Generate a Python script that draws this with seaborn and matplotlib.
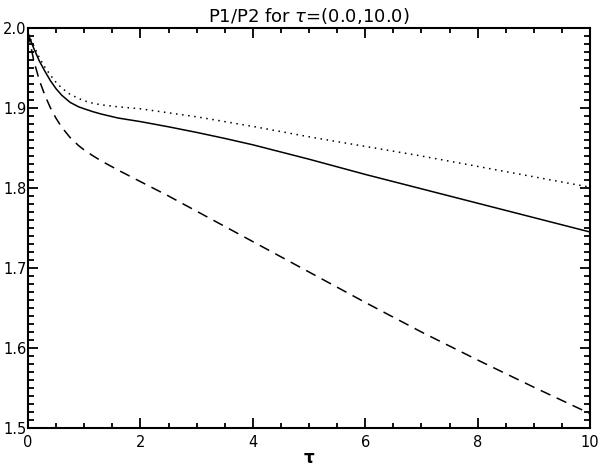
import numpy as np
import pandas as pd
import matplotlib
matplotlib.use("Agg")
import matplotlib.pyplot as plt
import seaborn as sns
from matplotlib.ticker import MultipleLocator

# values
tau = [0, 0.1, 0.2, 0.3, 0.4, 0.5, 0.6, 0.75, 0.9, 1.0, 1.15, 1.3, 1.6, 2.0,
       2.5, 3.0, 3.5, 4.0, 5.0, 6.0, 7.0, 8.0, 9.0, 10.0]
ratio_solid = [1.993, 1.975, 1.959, 1.946, 1.934, 1.924, 1.916, 1.907, 1.9015,
               1.899, 1.8955, 1.8925, 1.8875, 1.883, 1.8765, 1.8695, 1.862,
               1.854, 1.836, 1.817, 1.799, 1.781, 1.763, 1.745]
ratio_dotted = [1.993, 1.978, 1.963, 1.951, 1.941, 1.932, 1.925, 1.917, 1.912,
                1.909, 1.906, 1.904, 1.9015, 1.899, 1.894, 1.889, 1.883, 1.877,
                1.864, 1.852, 1.840, 1.827, 1.814, 1.801]
ratio_dashed = [1.995, 1.960, 1.935, 1.916, 1.900, 1.887, 1.876, 1.863, 1.853,
                1.8475, 1.8405, 1.834, 1.8225, 1.808, 1.790, 1.771, 1.752,
                1.733, 1.695, 1.657, 1.620, 1.585, 1.551, 1.518]


def main():
    sns.set_style("ticks")
    plt.rcParams["font.family"] = ["DejaVu Sans"]
    plt.rcParams["mathtext.fontset"] = "dejavusans"
    plt.rcParams["text.color"] = "black"
    plt.rcParams["axes.labelcolor"] = "black"

    fig = plt.figure(figsize=(6.0, 4.68), dpi=100)
    ax = fig.add_axes([28 / 600, 1 - 428 / 468, 562 / 600, 400 / 468])

    df = pd.DataFrame({"tau": tau, "solid": ratio_solid,
                       "dotted": ratio_dotted, "dashed": ratio_dashed})

    sns.lineplot(data=df, x="tau", y="solid", ax=ax, color="black", lw=1.1)
    sns.lineplot(data=df, x="tau", y="dotted", ax=ax, color="black", lw=1.1,
                 linestyle=(0, (1, 3)))
    sns.lineplot(data=df, x="tau", y="dashed", ax=ax, color="black", lw=1.1,
                 linestyle=(0, (7, 4.5)))

    ax.set_xlim(0, 10)
    ax.set_ylim(1.5, 2.0)
    ax.xaxis.set_major_locator(MultipleLocator(2))
    ax.xaxis.set_minor_locator(MultipleLocator(0.5))
    ax.yaxis.set_major_locator(MultipleLocator(0.1))
    ax.yaxis.set_minor_locator(MultipleLocator(0.01))
    ax.xaxis.set_major_formatter(plt.FuncFormatter(lambda v, p: f"{v:.0f}"))
    ax.yaxis.set_major_formatter(plt.FuncFormatter(lambda v, p: f"{v:.1f}"))

    for s in ax.spines.values():
        s.set_visible(True)
        s.set_linewidth(1.5)
        s.set_color("black")
    ax.tick_params(which="both", direction="in", top=True, right=True,
                   colors="black", labelsize=10.5, width=1.3)
    ax.tick_params(axis="x", which="major", length=7, pad=5)
    ax.tick_params(axis="x", which="minor", length=3.5)
    ax.tick_params(axis="y", which="major", length=7, pad=1)
    ax.tick_params(axis="y", which="minor", length=4.5)

    ax.set_xlabel(r"$\mathbf{\tau}$", fontsize=12, labelpad=-1, color="black")
    ax.set_ylabel("")
    ax.set_title(r"P1/P2 for $\tau$=(0.0,10.0)", fontsize=13, pad=4,
                 color="black")

    fig.savefig("out.png", dpi=100)


if __name__ == "__main__":
    main()
